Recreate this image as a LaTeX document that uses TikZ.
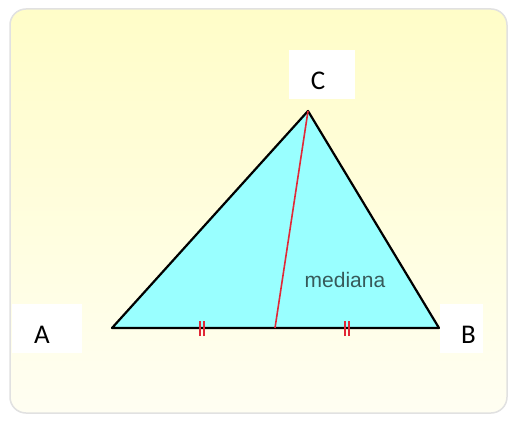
\documentclass[tikz,border=0pt]{standalone}
\usepackage{fontspec}
\setmainfont{Carlito}
\newfontfamily\medfont{Liberation Sans}
\definecolor{bgtop}{RGB}{255,253,200}
\definecolor{bgbot}{RGB}{255,254,242}
\definecolor{tri}{RGB}{153,255,255}
\definecolor{medred}{RGB}{225,40,55}
\definecolor{medtext}{RGB}{55,90,90}
\definecolor{frame}{RGB}{225,225,225}
\tikzset{
  lblbox/.style={fill=white, inner sep=0pt, minimum height=49pt},
  letter/.style={inner sep=0pt, font=\fontsize{27}{27}\selectfont},
  tick/.style={draw=medred, line width=1.8pt},
}
\begin{document}
\begin{tikzpicture}[x=1pt,y=1pt]
\fill[white] (0,0) rectangle (510,423);
\useasboundingbox (0,0) rectangle (510,423);
\shade[top color=bgtop, bottom color=bgbot, rounded corners=16] (10,10) rectangle (507,414);
\draw[frame, line width=1.5pt, rounded corners=16] (10,10) rectangle (507,414);
% vertices
\coordinate (A) at (112,95);
\coordinate (B) at (439,95);
\coordinate (C) at (308,312);
\coordinate (M) at (275,95);
% triangle
\filldraw[fill=tri, draw=black, line width=2.2pt, line join=round] (A) -- (B) -- (C) -- cycle;
% median
\draw[medred, line width=1.6pt] (C) -- (M);
% tick marks
\coordinate (t1) at (202,95);
\coordinate (t2) at (347,95);
\foreach \t in {t1,t2}{
  \draw[tick] ([xshift=-1.8pt,yshift=-8pt]\t) -- ([xshift=-1.8pt,yshift=7pt]\t);
  \draw[tick] ([xshift=1.8pt,yshift=-8pt]\t) -- ([xshift=1.8pt,yshift=7pt]\t);
}
% label boxes
\node[lblbox, minimum width=66pt] (bC) at (322,348.5) {};
\node[lblbox, minimum width=70pt] (bA) at (47,94.5) {};
\node[lblbox, minimum width=43pt] (bB) at (461.5,94.5) {};
% labels
\node[letter] (lC) at (318,342) {C};
\node[letter] (lA) at (42,88.5) {A};
\node[letter] (lB) at (468.5,88.5) {B};
\node[font=\medfont\fontsize{21}{21}\selectfont, text=medtext, inner sep=0pt] (med) at (345,143) {mediana};
\end{tikzpicture}
\end{document}
